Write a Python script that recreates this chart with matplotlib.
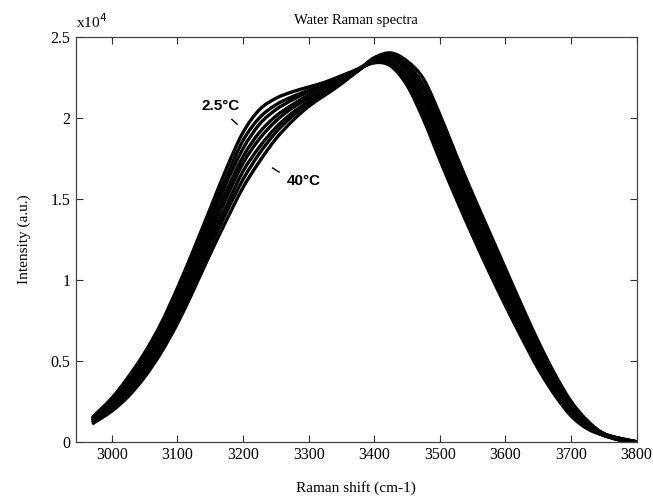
import matplotlib
matplotlib.use("Agg")
import matplotlib.pyplot as plt
from matplotlib.path import Path
from matplotlib.patches import PathPatch

# Raman shift knots (cm-1)
shift = [2970, 3000, 3025, 3050, 3075, 3100, 3125, 3150, 3175, 3200, 3225, 3250,
         3275, 3300, 3325, 3350, 3375, 3400, 3425, 3450, 3475, 3500, 3525, 3550,
         3575, 3600, 3625, 3650, 3675, 3700, 3725, 3750, 3775, 3800]

# Intensities (x10^4), from 2.5 C (first) to 40 C (last)
curve_2p5C = [.15, .27, .40, .55, .73, .95, 1.19, 1.44, 1.69, 1.91, 2.05, 2.12, 2.16, 2.19, 2.22, 2.26, 2.30,
              2.34, 2.32, 2.20, 1.99, 1.74, 1.50, 1.27, 1.05, .84, .64, .45, .29, .16, .08, .04, .01, 0]
curve_b = [.14, .26, .38, .53, .70, .92, 1.15, 1.40, 1.64, 1.86, 2.00, 2.08, 2.13, 2.17, 2.21, 2.25, 2.30,
           2.34, 2.33, 2.22, 2.03, 1.78, 1.54, 1.31, 1.09, .87, .67, .47, .31, .17, .09, .04, .01, 0]
curve_c = [.14, .25, .37, .51, .68, .89, 1.12, 1.36, 1.60, 1.81, 1.96, 2.05, 2.11, 2.16, 2.20, 2.25, 2.30,
           2.35, 2.34, 2.24, 2.06, 1.82, 1.58, 1.34, 1.12, .91, .70, .50, .33, .19, .09, .04, .02, 0]
curve_d = [.13, .24, .35, .49, .65, .86, 1.08, 1.32, 1.55, 1.76, 1.91, 2.01, 2.08, 2.14, 2.19, 2.24, 2.30,
           2.35, 2.35, 2.26, 2.10, 1.86, 1.62, 1.38, 1.16, .94, .73, .52, .35, .20, .10, .04, .02, 0]
curve_e = [.13, .22, .33, .46, .63, .82, 1.05, 1.28, 1.51, 1.72, 1.87, 1.98, 2.06, 2.12, 2.17, 2.23, 2.29,
           2.36, 2.37, 2.29, 2.13, 1.90, 1.65, 1.42, 1.19, .97, .75, .54, .36, .21, .11, .05, .02, 0]
curve_f = [.12, .21, .31, .44, .60, .79, 1.01, 1.24, 1.46, 1.67, 1.82, 1.94, 2.03, 2.10, 2.16, 2.22, 2.29,
           2.36, 2.38, 2.31, 2.17, 1.94, 1.69, 1.46, 1.23, 1.00, .78, .57, .38, .22, .11, .05, .02, 0]
curve_g = [.12, .20, .30, .42, .58, .76, .98, 1.20, 1.42, 1.62, 1.78, 1.91, 2.01, 2.09, 2.15, 2.22, 2.29,
           2.37, 2.39, 2.33, 2.20, 1.98, 1.73, 1.49, 1.26, 1.04, .81, .59, .40, .24, .12, .05, .02, 0]
curve_40C = [.11, .19, .28, .40, .55, .73, .94, 1.16, 1.37, 1.57, 1.73, 1.87, 1.98, 2.07, 2.14, 2.21, 2.29,
             2.37, 2.40, 2.35, 2.24, 2.02, 1.77, 1.53, 1.30, 1.07, .84, .62, .42, .25, .13, .05, .02, 0]

curves = [curve_2p5C, curve_b, curve_c, curve_d, curve_e, curve_f, curve_g, curve_40C]

xticks = [3000, 3100, 3200, 3300, 3400, 3500, 3600, 3700, 3800]
yticks = [0, 0.5, 1, 1.5, 2, 2.5]
ytick_labels = ["0", "0.5", "1", "1.5", "2", "2.5"]

serif = ["Liberation Serif", "DejaVu Serif"]
sans = ["Liberation Sans", "DejaVu Sans"]


def smooth_path(xs, ys):
    """Cubic Bezier path through the data points (Catmull-Rom tangents)."""
    n = len(xs)
    verts = [(xs[0], ys[0])]
    codes = [Path.MOVETO]
    for i in range(n - 1):
        x0, y0 = (xs[i - 1], ys[i - 1]) if i > 0 else (xs[i], ys[i])
        x1, y1 = xs[i], ys[i]
        x2, y2 = xs[i + 1], ys[i + 1]
        x3, y3 = (xs[i + 2], ys[i + 2]) if i + 2 < n else (x2, y2)
        c1 = (x1 + (x2 - x0) / 6.0, y1 + (y2 - y0) / 6.0)
        c2 = (x2 - (x3 - x1) / 6.0, y2 - (y3 - y1) / 6.0)
        verts += [c1, c2, (x2, y2)]
        codes += [Path.CURVE4] * 3
    return Path(verts, codes)


fig = plt.figure(figsize=(6.53, 4.97), dpi=100)
ax = fig.add_axes([0.116, 0.111, 0.859, 0.815])

for c in curves:
    ax.add_patch(PathPatch(smooth_path(shift, c), facecolor="none", edgecolor="black",
                           lw=2.4, joinstyle="round", capstyle="butt"))

ax.set_xlim(2945, 3800)
ax.set_ylim(0, 2.5)
ax.set_xticks(xticks)
ax.set_xticklabels([str(v) for v in xticks], fontfamily=serif, fontsize=11.5)
ax.set_yticks(yticks)
ax.set_yticklabels(ytick_labels, fontfamily=serif, fontsize=11.5)
ax.tick_params(direction="in", length=5, width=0.8, top=True, right=True, color="#333333", pad=4)
for s in ax.spines.values():
    s.set_color("#444444")
    s.set_linewidth(0.9)

ax.set_title("Water Raman spectra", fontfamily=serif, fontsize=10.5, pad=9)
ax.text(0.0, 1.015, r"x10$^{4}$", transform=ax.transAxes, fontfamily=serif, fontsize=11,
        ha="left", va="bottom")
ax.set_xlabel("Raman shift (cm-1)", fontfamily=serif, fontsize=11, labelpad=13)
ax.set_ylabel("Intensity (a.u.)", fontfamily=serif, fontsize=11, labelpad=14)

# annotations
ax.text(3166, 2.07, "2.5°C", fontfamily=sans, fontsize=11, fontweight="bold",
        ha="center", va="center")
ax.plot([3183, 3191], [1.99, 1.96], color="black", lw=1.0)
ax.text(3293, 1.61, "40°C", fontfamily=sans, fontsize=11, fontweight="bold",
        ha="center", va="center")
ax.plot([3245, 3255], [1.69, 1.665], color="black", lw=1.0)

fig.savefig("out.png", dpi=100)
